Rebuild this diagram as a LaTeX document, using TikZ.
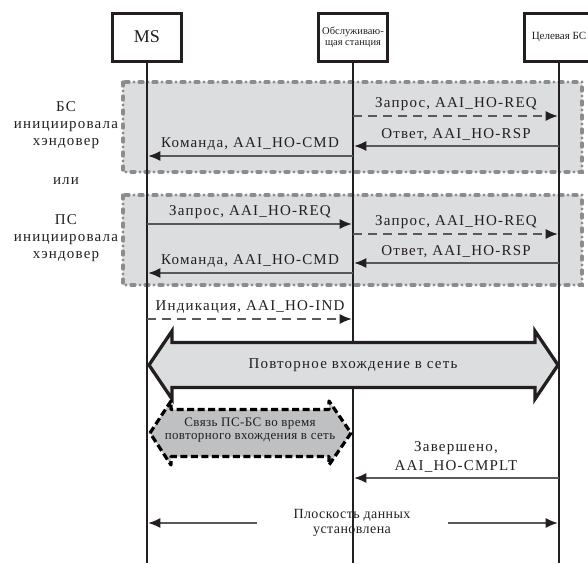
\documentclass[tikz,border=0pt]{standalone}
\usepackage{fontspec}
\setmainfont{Liberation Serif}
\newfontfamily\spfont[LetterSpace=8]{Liberation Serif}
\newfontfamily\smfont[LetterSpace=3]{Liberation Serif}
\usetikzlibrary{arrows.meta}
\pgfdeclarelayer{bg}
\pgfdeclarelayer{fg}
\pgfsetlayers{bg,main,fg}
\definecolor{ink}{HTML}{231F20}
\definecolor{msgline}{HTML}{58595B}
\definecolor{zonefill}{HTML}{DCDDDE}
\definecolor{zoneline}{HTML}{8A8C8E}
\definecolor{hexfill}{HTML}{BFC0C1}
\tikzset{
  ent/.style={draw=ink, line width=3pt, minimum width=69pt, minimum height=48pt,
    inner sep=0pt, align=center, fill=white, text=ink},
  life/.style={draw=ink, line width=2.9pt},
  msg/.style={draw=msgline, line width=1.3pt, -{Latex[length=12pt,width=10pt,color=ink]}, shorten >=1.3pt},
  dmsg/.style={msg, dash pattern=on 9pt off 6pt},
  lbl/.style={above, inner sep=0pt, yshift=5pt, text=ink,
    font=\spfont\fontsize{15}{17}\selectfont},
  zone/.style={draw=zoneline, fill=zonefill, line width=3.2pt, line cap=round,
    dash pattern=on 4pt off 5pt on 0pt off 5pt},
  side/.style={align=center, text=ink, font=\spfont\fontsize{15}{17}\selectfont},
}

\begin{document}
\begin{tikzpicture}[x=1pt, y=-1pt]
    \useasboundingbox (0,0) rectangle (588,563);
    \coordinate (bot) at (0,563);

    % stations
    \node[ent, font=\fontsize{18}{18}\selectfont] (ms) at (147,37) {MS};
    \node[ent, font=\fontsize{10.5}{11}\selectfont] (srv) at (353,37) {Обслуживаю-\\щая станция};
    \node[ent, font=\fontsize{11}{12}\selectfont] (tgt) at (559,37) {Целевая БС};

    \draw[life] (ms.south) -- (ms |- bot);
    \draw[life] (srv.south) -- (srv |- bot);
    \draw[life] (tgt.south) -- (tgt |- bot);

    % the two alternatives
    \begin{pgfonlayer}{bg}
        \draw[zone] (123,82) rectangle (582,172);
        \draw[zone] (123,195) rectangle (582,285);
    \end{pgfonlayer}

    \node[side] (bsinit) at (66,125) {БС\\инициировала\\хэндовер};
    \node[side] (orlbl) at (66,181) {или};
    \node[side] (psinit) at (66,238) {ПС\\инициировала\\хэндовер};

    \draw[dmsg] (srv |- 0,116) -- node[lbl] {Запрос, AAI\_HO-REQ} (tgt |- 0,116);
    \draw[msg] (tgt |- 0,146) -- node[lbl] {Ответ, AAI\_HO-RSP} (srv |- 0,146);
    \draw[msg] (srv |- 0,156) -- node[lbl] {Команда, AAI\_HO-CMD} (ms |- 0,156);

    \draw[msg] (ms |- 0,224) -- node[lbl] {Запрос, AAI\_HO-REQ} (srv |- 0,224);
    \draw[dmsg] (srv |- 0,234) -- node[lbl] {Запрос, AAI\_HO-REQ} (tgt |- 0,234);
    \draw[msg] (tgt |- 0,263) -- node[lbl] {Ответ, AAI\_HO-RSP} (srv |- 0,263);
    \draw[msg] (srv |- 0,273) -- node[lbl] {Команда, AAI\_HO-CMD} (ms |- 0,273);

    \draw[dmsg] (ms |- 0,319) -- node[lbl] {Индикация, AAI\_HO-IND} (srv |- 0,319);

    % network re-entry
    \draw[line width=3.3pt, draw=ink, fill=zonefill, line join=miter]
        (149,365) -- (172,331) -- (172,342.5) -- (535,342.5) -- (535,331) -- (558,365)
        -- (535,399) -- (535,387.5) -- (172,387.5) -- (172,399) -- cycle;
    \node[text=ink, font=\spfont\fontsize{15}{17}\selectfont] (reentry) at (353,365) {Повторное вхождение в сеть};

    \draw[line width=3.2pt, draw=black, fill=hexfill, dash pattern=on 7pt off 3.5pt, line join=round]
        (150,433) -- (171,401) -- (171,409.5) -- (329,409.5) -- (329,401) -- (351,433)
        -- (329,465) -- (329,456.5) -- (171,456.5) -- (171,465) -- cycle;
    \node[align=center, text=ink, font=\smfont\fontsize{13}{13.5}\selectfont] (link) at (250,430)
        {Связь ПС-БС во время\\повторного вхождения в сеть};

    \draw[msg] (tgt |- 0,478) -- node[lbl, align=center, font=\spfont\fontsize{15}{18.5}\selectfont]
        {Завершено,\\AAI\_HO-CMPLT} (srv |- 0,478);

    % data plane
    \node[align=center, text=ink, font=\smfont\fontsize{14}{15.5}\selectfont] (dplane) at (352,523)
        {Плоскость данных\\установлена};
    \coordinate (dpl) at (257,523);
    \coordinate (dpr) at (448,523);
    \draw[msg] (dpl) -- (ms |- dpl);
    \draw[msg] (dpr) -- (tgt |- dpr);
\end{tikzpicture}
\end{document}
